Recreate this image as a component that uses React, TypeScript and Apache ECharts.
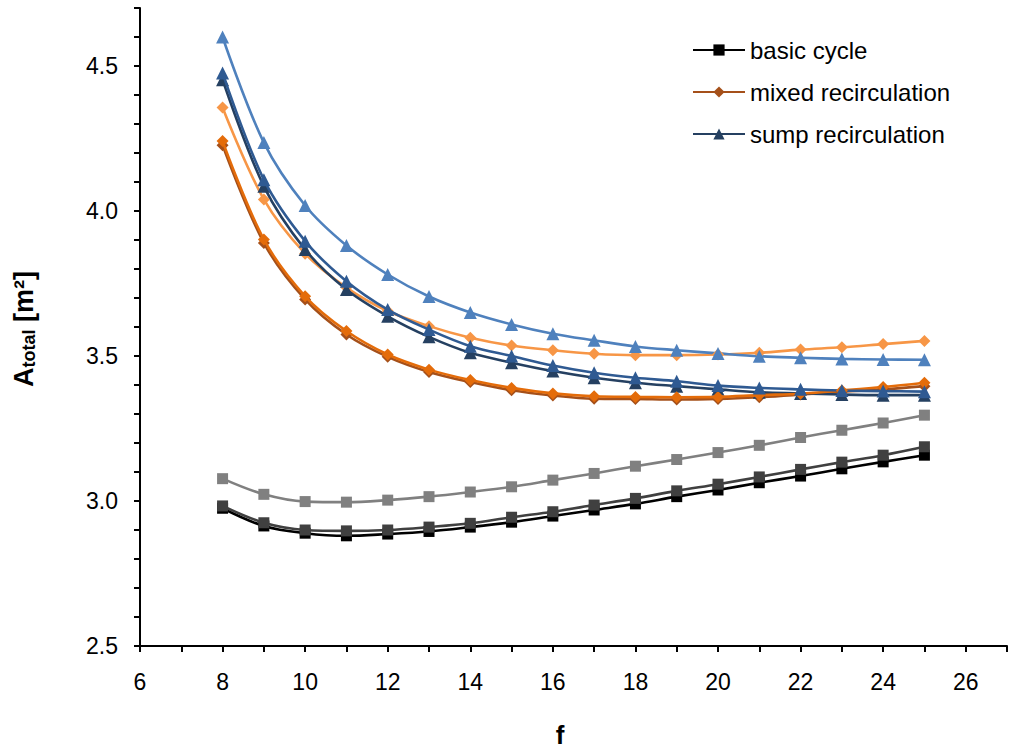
import React, { useEffect, useRef } from "react";
import * as echarts from "echarts";

const fValues = [8, 9, 10, 11, 12, 13, 14, 15, 16, 17, 18, 19, 20, 21, 22, 23, 24, 25];

const basicBlack = [2.975, 2.914, 2.889, 2.880, 2.886, 2.895, 2.910, 2.927, 2.948, 2.969, 2.990, 3.015, 3.038, 3.063, 3.086, 3.111, 3.135, 3.158];
const basicDark = [2.983, 2.925, 2.900, 2.897, 2.900, 2.910, 2.923, 2.944, 2.963, 2.986, 3.009, 3.035, 3.058, 3.083, 3.109, 3.134, 3.158, 3.187];
const basicGray = [3.077, 3.023, 2.998, 2.996, 3.003, 3.015, 3.031, 3.049, 3.072, 3.095, 3.120, 3.143, 3.167, 3.192, 3.219, 3.244, 3.269, 3.296];

const mixedBrown = [4.227, 3.890, 3.695, 3.574, 3.497, 3.445, 3.410, 3.382, 3.364, 3.353, 3.352, 3.350, 3.352, 3.358, 3.367, 3.377, 3.385, 3.396];
const mixedOrange = [4.241, 3.902, 3.706, 3.586, 3.505, 3.453, 3.417, 3.390, 3.371, 3.361, 3.359, 3.358, 3.359, 3.365, 3.370, 3.381, 3.393, 3.408];
const mixedLight = [4.357, 4.040, 3.853, 3.736, 3.655, 3.603, 3.563, 3.536, 3.520, 3.508, 3.503, 3.503, 3.505, 3.511, 3.522, 3.530, 3.541, 3.552];

const sumpNavy = [4.453, 4.085, 3.867, 3.729, 3.637, 3.566, 3.511, 3.477, 3.448, 3.425, 3.408, 3.396, 3.385, 3.375, 3.371, 3.367, 3.365, 3.365];
const sumpMid = [4.476, 4.108, 3.896, 3.758, 3.660, 3.591, 3.534, 3.500, 3.467, 3.442, 3.425, 3.413, 3.398, 3.390, 3.385, 3.381, 3.379, 3.377];
const sumpLight = [4.600, 4.236, 4.019, 3.881, 3.781, 3.705, 3.650, 3.609, 3.577, 3.554, 3.533, 3.520, 3.509, 3.499, 3.494, 3.490, 3.488, 3.487];

const legendNames = ["basic cycle", "mixed recirculation", "sump recirculation"];

const FONT = "Liberation Sans, Arial, sans-serif";

function mk(name: string, vals: number[], color: string, symbol: string, size: number, z: number) {
  return {
    name,
    type: "line",
    data: fValues.map((f, i) => [f, vals[i]]),
    smooth: 0.35,
    symbol,
    symbolSize: size,
    showSymbol: true,
    z,
    lineStyle: { color, width: 2.6 },
    itemStyle: { color },
  };
}

export default function App() {
  const ref = useRef<HTMLDivElement>(null);
  useEffect(() => {
    if (!ref.current) return;
    const chart = echarts.init(ref.current, null, { renderer: "svg" });
    const option = {
      animation: false,
      backgroundColor: "#ffffff",
      textStyle: { fontFamily: FONT },
      grid: { left: 140, top: 8, width: 870, height: 638 },
      legend: {
        data: legendNames,
        orient: "vertical",
        left: 687,
        top: 33,
        itemWidth: 52,
        itemHeight: 14,
        itemGap: 18,
        textStyle: { fontSize: 24, color: "#000", fontFamily: FONT },
      },
      xAxis: {
        type: "value",
        min: 6,
        max: 27,
        interval: 1,
        axisLine: { show: true, onZero: false, lineStyle: { color: "#000", width: 2 } },
        axisTick: { show: true, length: 6, lineStyle: { color: "#000", width: 2 } },
        splitLine: { show: false },
        axisLabel: {
          margin: 24,
          fontSize: 23,
          color: "#000",
          fontFamily: FONT,
          formatter: (v: number) => (v % 2 === 0 && v <= 26 ? String(v) : ""),
        },
      },
      yAxis: {
        type: "value",
        min: 2.5,
        max: 4.7,
        interval: 0.1,
        axisLine: { show: true, lineStyle: { color: "#000", width: 2 } },
        axisTick: { show: true, length: 6, lineStyle: { color: "#000", width: 2 } },
        splitLine: { show: false },
        axisLabel: {
          margin: 22,
          fontSize: 23,
          color: "#000",
          fontFamily: FONT,
          formatter: (v: number) => {
            const r = Math.round(v * 10);
            return r % 5 === 0 ? (r / 10).toFixed(1) : "";
          },
        },
      },
      graphic: [
        {
          type: "text",
          x: 560,
          y: 722,
          style: {
            text: "f",
            font: "bold 26px " + FONT,
            fill: "#000",
            textAlign: "center",
            textVerticalAlign: "top",
          },
        },
        {
          type: "text",
          x: 24,
          y: 329,
          rotation: Math.PI / 2,
          style: {
            text: "{a|A}{s|total}{a| [m²]}",
            textAlign: "center",
            textVerticalAlign: "middle",
            fill: "#000",
            rich: {
              a: { fontSize: 27, fontWeight: "bold", fontFamily: FONT, fill: "#000", verticalAlign: "top", lineHeight: 27, padding: [0, 0, 6, 0] },
              s: { fontSize: 18, fontWeight: "bold", fontFamily: FONT, fill: "#000", verticalAlign: "bottom", lineHeight: 18 },
            },
          },
        },
      ],
      series: [
        mk("basic cycle (b)", basicGray, "#808080", "rect", 11, 2),
        mk("basic cycle (a)", basicDark, "#404040", "rect", 11, 3),
        mk("basic cycle", basicBlack, "#000000", "rect", 11, 2),
        mk("mixed recirculation (b)", mixedLight, "#F79646", "diamond", 12, 2),
        mk("mixed recirculation", mixedBrown, "#A5501A", "diamond", 12, 2),
        mk("mixed recirculation (a)", mixedOrange, "#E46C0A", "diamond", 12, 3),
        mk("sump recirculation (b)", sumpLight, "#4F81BD", "triangle", 13, 2),
        mk("sump recirculation", sumpNavy, "#254061", "triangle", 13, 2),
        mk("sump recirculation (a)", sumpMid, "#2F5A92", "triangle", 13, 3),
      ],
    };
    chart.setOption(option as any);
    return () => chart.dispose();
  }, []);
  return (
    <div
      ref={ref}
      style={{ position: "fixed", left: 0, top: 0, width: 1010, height: 751, background: "#fff" }}
    />
  );
}
